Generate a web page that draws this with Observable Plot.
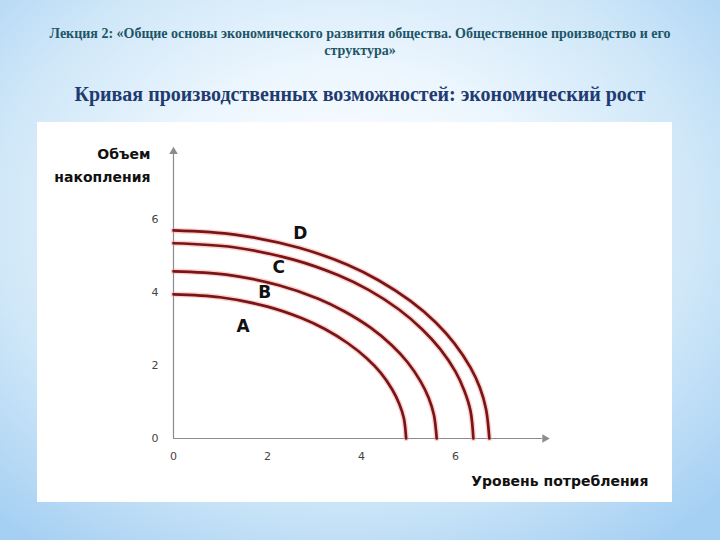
<!DOCTYPE html>
<html><head><meta charset="utf-8">
<script src="https://cdn.jsdelivr.net/npm/d3@7"></script>
<script src="https://cdn.jsdelivr.net/npm/@observablehq/plot@0.6"></script>
<style>
html,body{margin:0;padding:0;}
#slide{position:relative;width:720px;height:540px;overflow:hidden;
  background:radial-gradient(ellipse 72% 75% at 48% 40%, #ffffff 0%, #eef7fe 35%, #cfe7f8 68%, #a6d0f3 100%);}
#t1{position:absolute;left:0;right:0;top:25px;text-align:center;white-space:nowrap;
  font:bold 14px "Liberation Serif",serif;color:#1d5567;line-height:17px;}
#t2{position:absolute;left:0;right:0;top:83px;text-align:center;white-space:nowrap;
  font:bold 20px "Liberation Serif",serif;color:#1f3b70;}
#panel{position:absolute;left:37px;top:122px;width:635px;height:380px;background:#fff;}
#panel svg{display:block;}
</style></head>
<body>
<div id="slide">
  <div id="t1">Лекция 2: «Общие основы экономического развития общества. Общественное производство и его<br>структура»</div>
  <div id="t2">Кривая производственных возможностей: экономический рост</div>
  <div id="panel"></div>
</div>
<script>
// Curve data (consumption x, accumulation y)
const xA = [0, 0.99, 1.98, 2.72, 3.22, 3.71, 4.11, 4.41, 4.65, 4.80, 4.90, 4.95];
const yA = [3.95, 3.87, 3.62, 3.30, 3.00, 2.61, 2.20, 1.80, 1.35, 0.96, 0.56, 0];
const xB = [0, 1.12, 2.24, 3.08, 3.64, 4.20, 4.65, 4.98, 5.26, 5.43, 5.54, 5.6];
const yB = [4.58, 4.49, 4.20, 3.83, 3.48, 3.03, 2.55, 2.09, 1.56, 1.11, 0.65, 0];
const xC = [0, 1.28, 2.55, 3.51, 4.15, 4.79, 5.30, 5.68, 6.00, 6.19, 6.32, 6.38];
const yC = [5.35, 5.24, 4.90, 4.47, 4.07, 3.54, 2.98, 2.44, 1.83, 1.30, 0.75, 0];
const xD = [0, 1.34, 2.69, 3.70, 4.37, 5.04, 5.58, 5.98, 6.32, 6.52, 6.65, 6.72];
const yD = [5.7, 5.58, 5.22, 4.76, 4.33, 3.77, 3.18, 2.60, 1.94, 1.39, 0.80, 0];

const labelNames = ["A", "B", "C", "D"];
const labelX = [1.48, 1.94, 2.24, 2.70];
const labelY = [3.07, 4.01, 4.69, 5.61];

const xTicks = [0, 2, 4, 6];
const yTicks = [0, 2, 4, 6];

const yTitle = ["Объем", "накопления"];
const xTitle = "Уровень потребления";

const series = {A: [xA, yA], B: [xB, yB], C: [xC, yC], D: [xD, yD]};
const rows = [];
for (const [name, [xs, ys]] of Object.entries(series)) {
  xs.forEach((x, i) => rows.push({curve: name, x, y: ys[i]}));
}
const labels = labelNames.map((t, i) => ({t, x: labelX[i], y: labelY[i]}));

const axisColor = "#8c8c8c";
const font = "DejaVu Sans, Verdana, sans-serif";

const chart = Plot.plot({
  width: 635, height: 380,
  marginLeft: 136, marginRight: 123, marginTop: 24, marginBottom: 64,
  x: {domain: [0, 8]},
  y: {domain: [0, 8]},
  style: {background: "white", fontFamily: font, fontSize: "11px", overflow: "visible"},
  marks: [
    Plot.axisX({ticks: xTicks, tickSize: 0, tickPadding: 14, label: null, color: "#444", fontSize: 11}),
    Plot.axisY({ticks: yTicks, tickSize: 0, tickPadding: 15, label: null, color: "#444", fontSize: 11}),
    Plot.ruleX([0], {y1: 0, y2: 7.8, stroke: axisColor, strokeWidth: 1.2}),
    Plot.ruleY([0], {x1: 0, x2: 7.85, stroke: axisColor, strokeWidth: 1.2}),
    Plot.dot([{x: 0, y: 7.86}], {x: "x", y: "y", symbol: "triangle", r: 3.2, fill: axisColor, stroke: null}),
    Plot.dot([{x: 7.9, y: 0}], {x: "x", y: "y", symbol: "triangle", r: 3.2, rotate: 90, fill: axisColor, stroke: null}),
    Plot.line(rows, {x: "x", y: "y", z: "curve", stroke: "#f19c9c", strokeWidth: 5.5, strokeOpacity: 0.45, curve: "catmull-rom"}),
    Plot.line(rows, {x: "x", y: "y", z: "curve", stroke: "#7a1515", strokeWidth: 2.7, curve: "catmull-rom"}),
    Plot.text(labels, {x: "x", y: "y", text: "t", fontSize: 17, fontWeight: "bold", fill: "#111"}),
    Plot.text([yTitle[0]], {x: -0.49, y: 7.78, text: d => d, textAnchor: "end", fontSize: 14, fontWeight: "bold", fill: "#111"}),
    Plot.text([yTitle[1]], {x: -0.49, y: 7.16, text: d => d, textAnchor: "end", fontSize: 14, fontWeight: "bold", fill: "#111"}),
    Plot.text([xTitle], {x: 8.22, y: -1.18, text: d => d, fontSize: 14, fontWeight: "bold", fill: "#111"})
  ]
});
document.getElementById("panel").appendChild(chart);
</script>
</body></html>
